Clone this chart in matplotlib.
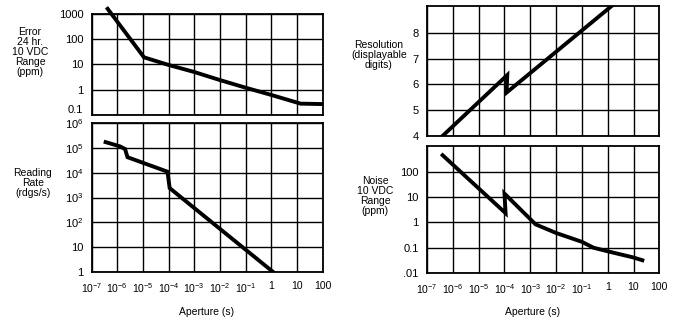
import numpy as np
import matplotlib
matplotlib.use("Agg")
from matplotlib import pyplot as plt

plt.rcParams["font.family"] = ["Liberation Sans", "DejaVu Sans"]
plt.rcParams["mathtext.default"] = "regular"

# aperture decades shared by all four panels
aperture_ticks = [1e-7, 1e-6, 1e-5, 1e-4, 1e-3, 1e-2, 1e-1, 1, 10, 100]
aperture_labels = ["$10^{-7}$", "$10^{-6}$", "$10^{-5}$", "$10^{-4}$", "$10^{-3}$",
                   "$10^{-2}$", "$10^{-1}$", "1", "10", "100"]

# Error 24 hr, 10 VDC range (ppm)
err_x = [4.2e-7, 1.1e-5, 1e-4, 1e-3, 1e-2, 1e-1, 1, 10, 14, 90]
err_y = [1580, 19, 9.5, 5.0, 2.4, 1.2, 0.62, 0.31, 0.28, 0.27]
err_ticks = [0.1, 1, 10, 100, 1000]
err_labels = ["0.1", "1", "10", "100", "1000"]

# Reading rate (rdgs/s)
rate_x = [3.5e-7, 1.26e-6, 2.0e-6, 2.5e-6, 9e-5, 1.1e-4, 1.2]
rate_y = [1.7e5, 1.15e5, 9e4, 4.2e4, 1.1e4, 2.4e3, 1]
rate_ticks = [1, 10, 1e2, 1e3, 1e4, 1e5, 1e6]
rate_labels = ["1", "10", "$10^2$", "$10^3$", "$10^4$", "$10^5$", "$10^6$"]

# Resolution (displayable digits)
res_x = [4e-7, 1.28e-4, 1.2e-4, 1.45]
res_y = [4.0, 6.36, 5.68, 9.05]
res_ticks = [4, 5, 6, 7, 8]

# Noise, 10 VDC range (ppm)
noise_x = [4e-7, 1.1e-4, 1.0e-4, 1.6e-3, 1e-2, 1e-1, 0.28, 1, 10, 22]
noise_y = [440, 2.3, 13.5, 0.83, 0.38, 0.17, 0.1, 0.072, 0.041, 0.032]
noise_ticks = [0.01, 0.1, 1, 10, 100]
noise_labels = [".01", "0.1", "1", "10", "100"]

fig = plt.figure(figsize=(6.79, 3.22), dpi=100)

ax_err = fig.add_axes([0.135, 0.643, 0.340, 0.314])
ax_rate = fig.add_axes([0.135, 0.155, 0.340, 0.463])
ax_res = fig.add_axes([0.629, 0.578, 0.342, 0.404])
ax_noise = fig.add_axes([0.629, 0.152, 0.342, 0.394])


def setup(ax, yticks, ylabels, ylim, logy=True, bottom=False):
    ax.set_xscale("log")
    if logy:
        ax.set_yscale("log")
    ax.set_xlim(1e-7, 100)
    ax.set_ylim(*ylim)
    ax.set_xticks(aperture_ticks)
    ax.set_yticks(yticks)
    ax.set_yticklabels(ylabels)
    ax.minorticks_off()
    if bottom:
        ax.set_xticklabels(aperture_labels)
    else:
        ax.set_xticklabels([])
    ax.tick_params(length=0, labelsize=8, pad=6)
    ax.tick_params(axis="x", labelsize=7.5, pad=6.5)
    ax.grid(True, color="black", linewidth=1.0)
    for s in ax.spines.values():
        s.set_linewidth(1.3)


setup(ax_err, err_ticks, err_labels, (0.1, 1000))
ax_err.plot(err_x, err_y, color="black", linewidth=2.8, clip_on=False,
            solid_joinstyle="miter")
# lift the bottom label so it clears the panel below
ax_err.get_yticklabels()[0].set_verticalalignment("bottom")

setup(ax_rate, rate_ticks, rate_labels, (1, 1e6), bottom=True)
ax_rate.plot(rate_x, rate_y, color="black", linewidth=2.8, solid_joinstyle="miter")

setup(ax_res, res_ticks, [str(t) for t in res_ticks], (4, 9.05), logy=False)
ax_res.plot(res_x, res_y, color="black", linewidth=2.8, solid_joinstyle="miter")

setup(ax_noise, noise_ticks, noise_labels, (0.01, 1000), bottom=True)
ax_noise.plot(noise_x, noise_y, color="black", linewidth=2.8, solid_joinstyle="miter")

fs = 7.5
ls = 1.02
fig.text(30 / 679, 1 - 52 / 322, "Error\n24 hr.\n10 VDC\nRange\n(ppm)", ha="center",
         va="center", fontsize=fs, linespacing=ls)
fig.text(33 / 679, 1 - 183 / 322, "Reading\nRate\n(rdgs/s)", ha="center",
         va="center", fontsize=fs, linespacing=ls)
fig.text(379 / 679, 1 - 55 / 322, "Resolution\n(displayable\ndigits)", ha="center",
         va="center", fontsize=fs, linespacing=ls)
fig.text(375 / 679, 1 - 196 / 322, "Noise\n10 VDC\nRange\n(ppm)", ha="center",
         va="center", fontsize=fs, linespacing=ls)
fig.text(207 / 679, 1 - 312 / 322, "Aperture (s)", ha="center", va="center", fontsize=fs)
fig.text(533 / 679, 1 - 312 / 322, "Aperture (s)", ha="center", va="center", fontsize=fs)

fig.savefig("out.png", dpi=100)
